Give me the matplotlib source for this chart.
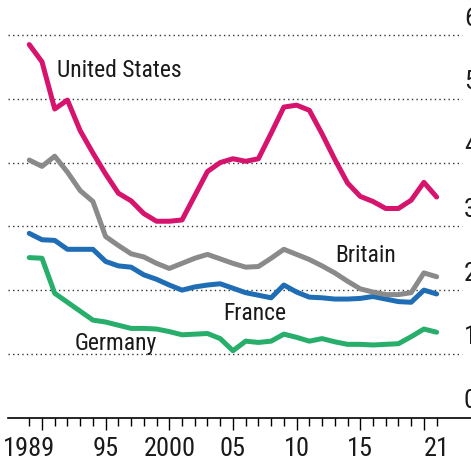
"""
Total fertility-style comparison chart: four countries, 1989-2021.
"""
import numpy as np
import matplotlib
matplotlib.use('Agg')
import matplotlib.pyplot as plt
from matplotlib import font_manager as fm

# pick a condensed sans if one is around
names = {f.name for f in fm.fontManager.ttflist}
cands = ['Roboto Condensed', 'Fira Sans Condensed', 'IBM Plex Sans Condensed',
         'Liberation Sans Narrow', 'Archivo Narrow', 'PT Sans Narrow',
         'Asap Condensed', 'Encode Sans Condensed', 'Barlow Condensed']
fam = [c for c in cands if c in names][:1]
plt.rcParams['font.family'] = fam + ['DejaVu Sans']

years = list(range(1989, 2022))

us = [5.85, 5.58, 4.84, 4.98, 4.50, 4.15, 3.82, 3.52, 3.40, 3.20, 3.08,
      3.08, 3.10, 3.48, 3.86, 4.00, 4.06, 4.02, 4.06, 4.46, 4.87, 4.90,
      4.82, 4.45, 4.05, 3.68, 3.47, 3.39, 3.28, 3.28, 3.41, 3.69, 3.46]
britain = [4.04, 3.94, 4.10, 3.85, 3.56, 3.39, 2.84, 2.70, 2.57, 2.52, 2.42,
           2.34, 2.42, 2.50, 2.56, 2.49, 2.42, 2.36, 2.37, 2.50, 2.64, 2.56,
           2.48, 2.38, 2.27, 2.14, 2.02, 1.97, 1.93, 1.93, 1.96, 2.27, 2.21]
france = [2.89, 2.79, 2.78, 2.64, 2.64, 2.64, 2.45, 2.38, 2.36, 2.24, 2.17,
          2.08, 2.00, 2.05, 2.08, 2.10, 2.03, 1.96, 1.92, 1.88, 2.08, 1.97,
          1.89, 1.88, 1.86, 1.86, 1.87, 1.90, 1.86, 1.82, 1.81, 2.00, 1.94]
germany = [2.51, 2.50, 1.95, 1.81, 1.67, 1.53, 1.50, 1.45, 1.40, 1.40, 1.39,
           1.35, 1.30, 1.31, 1.32, 1.24, 1.05, 1.20, 1.18, 1.20, 1.31, 1.26,
           1.20, 1.24, 1.19, 1.15, 1.15, 1.14, 1.15, 1.16, 1.27, 1.39, 1.34]

series = [('United States', us, '#d6136d', (1991.2, 5.45)),
          ('Britain', britain, '#8a8a8a', (2013.0, 2.55)),
          ('France', france, '#1f6db5', (2004.2, 1.63)),
          ('Germany', germany, '#27ae6a', (1992.6, 1.16))]

xlabels = {1989: '1989', 1995: '95', 2000: '2000', 2005: '05',
           2010: '10', 2015: '15', 2021: '21'}
yvals = [0, 1, 2, 3, 4, 5, 6]

txt_c = '#1a1a1a'

fig = plt.figure(figsize=(4.71, 4.59), dpi=100)
ax = fig.add_axes([8/471, 41.3/459, 463/471, 407.7/459])
ax.set_xlim(1987.33, 2023.70)
ax.set_ylim(0, 6.392)

# gridlines (dotted), not on zero
for yv in yvals[1:]:
    ax.hlines(yv, 1987.33, 2023.0, colors='#333333', lw=1,
              linestyles=(0, (1, 2.3)), zorder=1)

for name, vals, col, (tx, ty) in series[::-1]:
    ax.plot(years, vals, c=col, lw=3.6, solid_joinstyle='round',
            solid_capstyle='round', zorder=3)
for name, vals, col, (tx, ty) in series:
    ax.text(tx, ty, name, fontsize=17, color=txt_c, ha='left', va='center',
            zorder=4)

# y labels sitting above the gridlines, partly off the right edge
for yv in yvals:
    ax.text(2023.15, yv + 0.07, str(yv), fontsize=19, color=txt_c,
            ha='left', va='bottom', clip_on=False)

for s in ['top', 'left', 'right']:
    ax.spines[s].set_visible(False)
ax.spines['bottom'].set_linewidth(1.2)
ax.spines['bottom'].set_color('black')
ax.set_yticks([])

ax.set_xticks(list(range(1990, 2021, 5)))
ax.set_xticks(years, minor=True)
ax.tick_params(axis='x', which='major', length=8.6, width=1, labelbottom=False)
ax.tick_params(axis='x', which='minor', length=5.8, width=1)

for yr, lab in xlabels.items():
    ax.annotate(lab, (yr, 0), xycoords=('data', 'axes fraction'),
                xytext=(0, -14), textcoords='offset points',
                ha='center', va='top', fontsize=19, color=txt_c)

plt.savefig('out.png', dpi=100)
